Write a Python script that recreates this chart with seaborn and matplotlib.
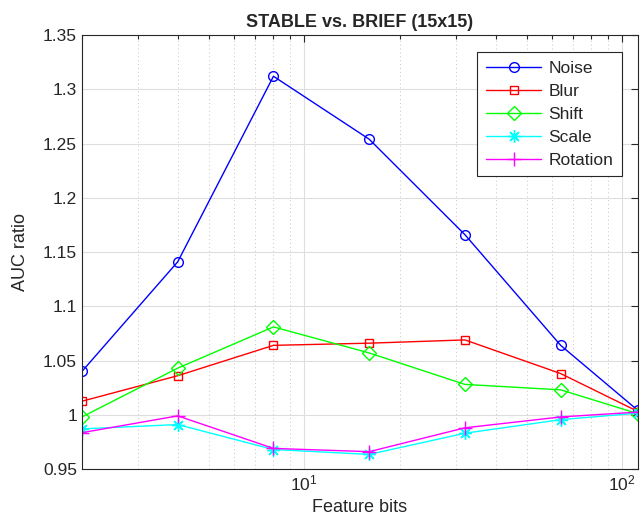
import matplotlib
matplotlib.use("Agg")
import matplotlib.pyplot as plt
import seaborn as sns
import pandas as pd
import numpy as np
from matplotlib.ticker import FixedLocator, FixedFormatter, LogLocator, NullFormatter

bits = [2, 4, 8, 16, 32, 64, 112]
noise = [1.040, 1.141, 1.312, 1.254, 1.166, 1.064, 1.004]
blur = [1.0125, 1.036, 1.064, 1.066, 1.069, 1.038, 1.003]
shift = [0.998, 1.043, 1.081, 1.057, 1.028, 1.023, 1.001]
scale = [0.987, 0.991, 0.968, 0.9635, 0.9830, 0.9955, 1.0015]
rotation = [0.9835, 0.999, 0.969, 0.9660, 0.988, 0.9980, 1.0025]

series_names = ["Noise", "Blur", "Shift", "Scale", "Rotation"]
series_vals = [noise, blur, shift, scale, rotation]
colors = ["#0000ff", "#ff0000", "#00ff00", "#00ffff", "#ff00ff"]
markers = ["o", "s", "D", (8, 2, 0), "+"]
msizes = [7, 6, 7, 9, 10]

yticks = [0.95, 1.0, 1.05, 1.1, 1.15, 1.2, 1.25, 1.3, 1.35]
ytick_labels = ["0.95", "1", "1.05", "1.1", "1.15", "1.2", "1.25", "1.3", "1.35"]

sns.set_theme(style="white")
plt.rcParams["font.family"] = ["Liberation Sans", "DejaVu Sans"]

fig = plt.figure(figsize=(6.42, 5.31), dpi=100)
ax = fig.add_axes([0.1277, 0.1167, 0.866, 0.8173])

for name, vals, c, m, ms in zip(series_names, series_vals, colors, markers, msizes):
    df = pd.DataFrame({"bits": bits, "ratio": vals})
    sns.lineplot(data=df, x="bits", y="ratio", ax=ax, color=c, marker=m,
                 markersize=ms, mfc="none", mec=c, mew=1.0, lw=1.0,
                 label=name, clip_on=True)

ax.set_xscale("log")
ax.set_xlim(2, 112)
ax.set_ylim(0.95, 1.35)
ax.yaxis.set_major_locator(FixedLocator(yticks))
ax.yaxis.set_major_formatter(FixedFormatter(ytick_labels))
ax.xaxis.set_major_locator(LogLocator(base=10))
ax.xaxis.set_minor_locator(LogLocator(base=10, subs=np.arange(2, 10)))
ax.xaxis.set_minor_formatter(NullFormatter())

tc = "#262626"
ax.grid(True, which="major", color="#dedede", lw=0.8, ls="-")
ax.grid(True, which="minor", axis="x", color="#c4c4c4", lw=0.7, ls=(0, (1, 3)))
ax.set_axisbelow(True)
for sp in ax.spines.values():
    sp.set_color(tc)
    sp.set_linewidth(0.8)
ax.tick_params(which="both", direction="in", top=True, right=True,
               color=tc, labelcolor=tc, width=0.8)
ax.tick_params(which="major", length=5, labelsize=12.5)
ax.tick_params(which="minor", length=3)

ax.set_xlabel("Feature bits", fontsize=13, color=tc, labelpad=4)
ax.set_ylabel("AUC ratio", fontsize=13, color=tc, labelpad=10)
ax.set_title("STABLE vs. BRIEF (15x15)", fontsize=13, fontweight="bold",
             color=tc, pad=6)

leg = ax.legend(loc="upper right", fontsize=12.5, frameon=True, fancybox=False,
                edgecolor=tc, framealpha=1, handlelength=3.2, handletextpad=0.4,
                borderpad=0.5, labelspacing=0.45, borderaxespad=0,
                bbox_to_anchor=(0.971, 0.961))
leg.get_frame().set_linewidth(0.8)

fig.savefig("out.png", dpi=100)
